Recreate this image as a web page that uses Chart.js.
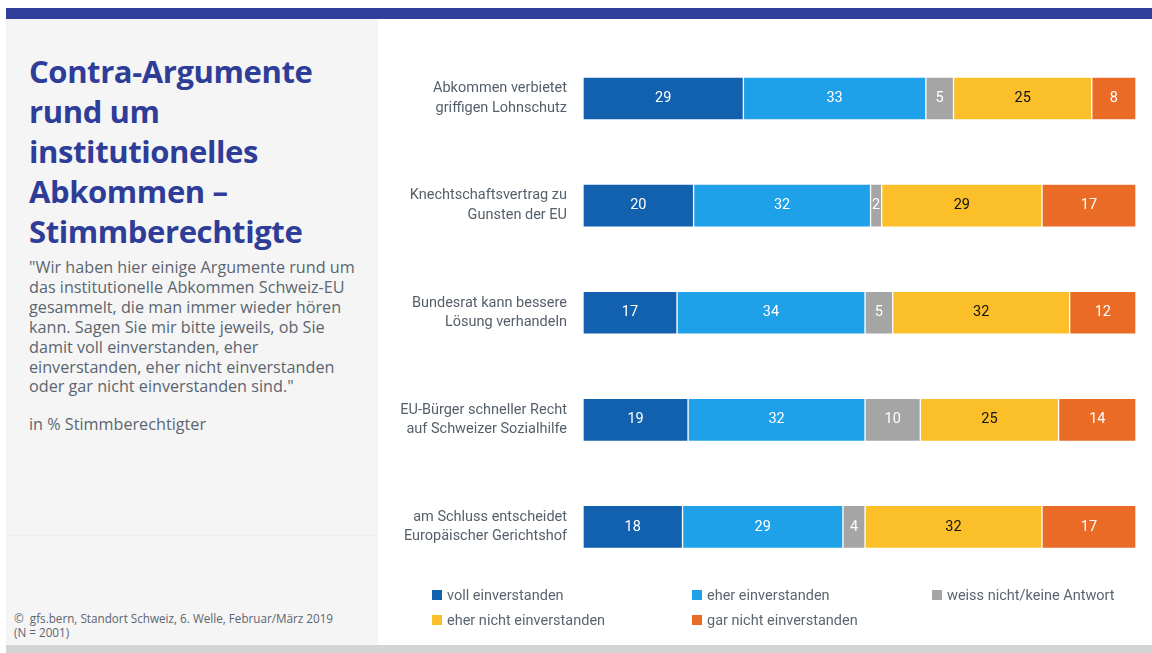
<!DOCTYPE html>
<html>
<head>
<meta charset="utf-8">
<script src="https://cdn.jsdelivr.net/npm/chart.js@4/dist/chart.umd.min.js"></script>
<style>
  html, body { margin:0; padding:0; background:#fff; }
  body { width:1152px; height:653px; position:relative; overflow:hidden; font-family:"Open Sans","Noto Sans",sans-serif; }
  #topbar { position:absolute; left:6px; top:8px; width:1146px; height:11px; background:#2f3f9b; }
  #panel { position:absolute; left:6px; top:19px; width:372px; height:626px; background:#f5f5f5; }
  #sep { position:absolute; left:6px; top:535px; width:372px; height:1px; background:#eeeeee; }
  #bottom { position:absolute; left:6px; top:645px; width:1146px; height:8px; background:#d3d5d4; }
  #title { position:absolute; left:29px; top:51px; font-weight:700; font-size:31px; line-height:40px; color:#2e3d98; white-space:nowrap; letter-spacing:-0.4px; }
  #desc { position:absolute; left:29px; top:258px; font-size:16.2px; line-height:19.9px; color:#5b6570; white-space:nowrap; }
  #unit { position:absolute; left:29px; top:413px; font-size:16.2px; color:#5b6570; white-space:nowrap; }
  #foot { position:absolute; left:14px; top:611px; font-size:11.7px; line-height:14px; color:#5b6570; white-space:nowrap; }
  #chartbox { position:absolute; left:378px; top:0px; width:774px; height:616px; }
  .leg { position:absolute; font-size:14.5px; color:#5b6570; white-space:nowrap; font-family:"Roboto","Noto Sans",sans-serif; }
  .leg i { display:inline-block; width:10px; height:10px; margin-right:5px; vertical-align:0px; }
</style>
</head>
<body>
<div id="topbar"></div>
<div id="panel"></div>
<div id="sep"></div>
<div id="bottom"></div>
<div id="title">Contra-Argumente<br>rund um<br>institutionelles<br>Abkommen –<br>Stimmberechtigte</div>
<div id="desc">"Wir haben hier einige Argumente rund um<br>das institutionelle Abkommen Schweiz-EU<br>gesammelt, die man immer wieder hören<br>kann. Sagen Sie mir bitte jeweils, ob Sie<br>damit voll einverstanden, eher<br>einverstanden, eher nicht einverstanden<br>oder gar nicht einverstanden sind."</div>
<div id="unit">in % Stimmberechtigter</div>
<div id="foot">©&nbsp; gfs.bern, Standort Schweiz, 6. Welle, Februar/März 2019<br>(N = 2001)</div>
<div id="chartbox"><canvas id="c" width="774" height="616"></canvas></div>
<div id="legend"></div>
<script>
const categories = [
  ["Abkommen verbietet", "griffigen Lohnschutz"],
  ["Knechtschaftsvertrag zu", "Gunsten der EU"],
  ["Bundesrat kann bessere", "Lösung verhandeln"],
  ["EU-Bürger schneller Recht", "auf Schweizer Sozialhilfe"],
  ["am Schluss entscheidet", "Europäischer Gerichtshof"]
];
const seriesNames = ["voll einverstanden", "eher einverstanden", "weiss nicht/keine Antwort", "eher nicht einverstanden", "gar nicht einverstanden"];
const vollEinverstanden      = [29, 20, 17, 19, 18];
const eherEinverstanden      = [33, 32, 34, 32, 29];
const weissNicht             = [5, 2, 5, 10, 4];
const eherNichtEinverstanden = [25, 29, 32, 25, 32];
const garNichtEinverstanden  = [8, 17, 12, 14, 17];
const seriesColors = ["#1161ae", "#1fa1e9", "#a5a5a5", "#fbbf2a", "#e96b25"];
const labelColors  = ["#ffffff", "#ffffff", "#ffffff", "#111111", "#ffffff"];

const seriesValues = [vollEinverstanden, eherEinverstanden, weissNicht, eherNichtEinverstanden, garNichtEinverstanden];
const FONT = "'Roboto','Noto Sans',sans-serif";

const datasets = seriesValues.map((vals, i) => ({
  label: seriesNames[i],
  data: vals,
  backgroundColor: seriesColors[i],
  borderColor: "rgba(255,255,255,0.45)",
  borderWidth: 1,
  borderSkipped: false,
  barThickness: 43
}));

const valueLabels = {
  id: "valueLabels",
  afterDatasetsDraw(chart) {
    const ctx = chart.ctx;
    ctx.save();
    ctx.font = "14.5px " + FONT;
    ctx.textAlign = "center";
    ctx.textBaseline = "middle";
    chart.data.datasets.forEach((ds, di) => {
      const meta = chart.getDatasetMeta(di);
      meta.data.forEach((bar, idx) => {
        const v = ds.data[idx];
        const x = (bar.x + bar.base) / 2;
        ctx.fillStyle = labelColors[di];
        ctx.fillText(String(v), x, bar.y);
      });
    });
    ctx.restore();
  }
};

new Chart(document.getElementById("c"), {
  type: "bar",
  data: { labels: categories, datasets },
  options: {
    indexAxis: "y",
    responsive: false,
    animation: false,
    layout: { padding: { left: 0, right: 16, top: 45, bottom: 10 } },
    plugins: { legend: { display: false }, tooltip: { enabled: false } },
    scales: {
      x: { stacked: true, min: 0, max: 100, display: false },
      y: {
        stacked: true,
        grid: { display: false, drawTicks: false },
        border: { display: false },
        afterFit(scale) { scale.width = 205; },
        ticks: {
          padding: 16,
          color: "#555f6a",
          font: { family: FONT, size: 14.5, lineHeight: 1.35 }
        }
      }
    }
  },
  plugins: [valueLabels]
});

// HTML legend built from the series names/colors
const legPos = [[432, 587], [692, 587], [932, 587], [432, 612], [692, 612]];
const legend = document.getElementById("legend");
seriesNames.forEach((n, i) => {
  const d = document.createElement("div");
  d.className = "leg";
  d.style.left = legPos[i][0] + "px";
  d.style.top = legPos[i][1] + "px";
  d.innerHTML = '<i style="background:' + seriesColors[i] + '"></i>' + n;
  legend.appendChild(d);
});
</script>
</body>
</html>
